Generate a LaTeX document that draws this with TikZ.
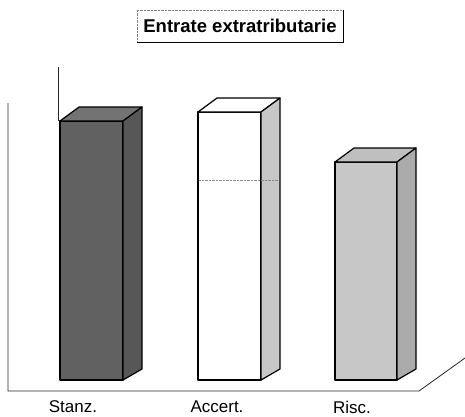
\documentclass[tikz,border=0pt]{standalone}
\usepackage{fontspec}
\setmainfont{Liberation Sans}
\usepackage{tikz}
\usetikzlibrary{positioning}
\usepackage{xcolor}
\tikzstyle{edge} = [line width=1.2pt,line join=round]

\begin{document}
\begin{tikzpicture}[
    x=1pt, y=-1pt,
    bar-face/.style={edge, draw=black},
    axis-line/.style={line width=0.8pt, black!85},
    cat-label/.style={font=\fontsize{17}{19}\selectfont, inner sep=0pt}
  ]

  \useasboundingbox (0,0) rectangle (465,416);

  % title box
  \node[draw=black!50, densely dotted, thin, inner xsep=5pt, minimum width=206pt, minimum height=32pt,
        font=\bfseries\fontsize{18.5}{21}\selectfont] (title) at (240,26) {Entrate extratributarie};
  \draw[line width=1.3pt] (title.north east) -- (title.south east) -- (title.south west);

  % walls and floor
  \coordinate (wl) at (8,103);
  \coordinate (fl) at (8,391);
  \coordinate (fr) at (419,391);
  \coordinate (fe) at (465,358);
  \coordinate (bw) at (58,67);
  \coordinate (bwb) at (58,121);
  \draw[axis-line] (wl) -- (fl) -- (fr) -- (fe);
  \draw[axis-line] (bw) -- (bwb);

  % bars: left / right / top / front, top, side fill
  \foreach \l/\r/\t/\fa/\fb/\fc/\n in {60/123/121/black!62/black!55/black!66/stanz,
                                    198/261/112/white/white/black!22/accert,
                                    335/397/162/black!22/black!25/black!33/risc}{
    \coordinate (\n-fl) at (\l,380);
    \coordinate (\n-fr) at (\r,380);
    \coordinate (\n-tl) at (\l,\t);
    \coordinate (\n-tr) at (\r,\t);
    \coordinate (\n-bl) at (\l+19,\t-14);
    \coordinate (\n-br) at (\r+19,\t-14);
    \coordinate (\n-sb) at (\r+19,369);
    \filldraw[bar-face, fill=\fa] (\n-fl) rectangle (\n-tr);
    \filldraw[bar-face, fill=\fb] (\n-tl) -- (\n-bl) -- (\n-br) -- (\n-tr) -- cycle;
    \filldraw[bar-face, fill=\fc] (\n-tr) -- (\n-br) -- (\n-sb) -- (\n-fr) -- cycle;
  }

  % grid line seen through the white bar
  \draw[black!45, densely dotted, thin] (199,180) -- (278,180);

  % category labels
  \node[cat-label] (lab-stanz) at (73,407) {Stanz.};
  \node[cat-label] (lab-accert) at (217,407) {Accert.};
  \node[cat-label] (lab-risc) at (352,407) {Risc.};

\end{tikzpicture}
\end{document}
